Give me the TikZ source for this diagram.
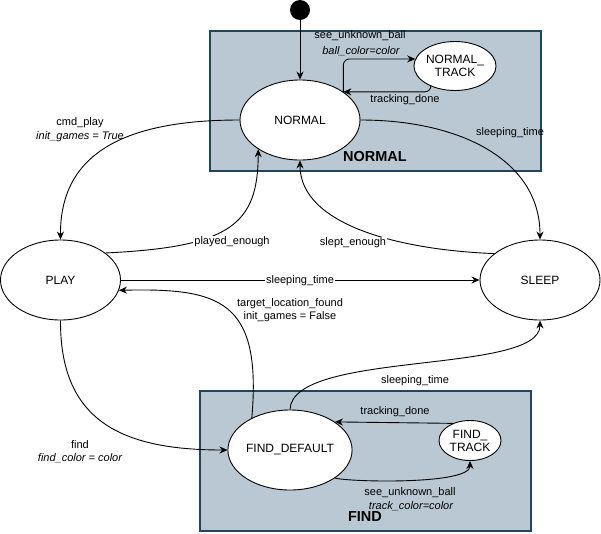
\documentclass[tikz,border=0pt]{standalone}
\usepackage{fontspec}
\setmainfont{Liberation Sans}
\usetikzlibrary{shapes.geometric,arrows.meta}
\definecolor{clfill}{HTML}{BAC8D3}
\definecolor{clline}{HTML}{23445D}
\begin{document}
\begin{tikzpicture}[x=1pt,y=-1pt,
  state/.style={ellipse, draw, fill=white, line width=0.9pt, inner sep=0pt, font=\fontsize{12}{14}\selectfont, align=center},
  lbl/.style={font=\fontsize{11}{13}\selectfont, inner sep=1pt, align=center},
  ilbl/.style={lbl, font=\fontsize{11}{13}\selectfont\itshape},
  title/.style={font=\fontsize{14.5}{16}\selectfont\bfseries, inner sep=0pt},
  edge/.style={-{Stealth[length=8pt,width=7pt]}, line width=0.9pt},
  cluster/.style={draw=clline, fill=clfill, line width=2.7pt, inner sep=0pt}]
\useasboundingbox (0,0) rectangle (601,533);
% clusters
\node[cluster, minimum width=331pt, minimum height=140pt] (normalbox) at (375.5,101) {};
\node[cluster, minimum width=331pt, minimum height=140pt] (findbox) at (365.5,461) {};
\node[title] (normaltitle) at (375,157) {NORMAL};
\node[title] (findtitle) at (365,517) {FIND};
% states
\node[circle, fill=black, minimum size=20pt, inner sep=0pt] (init) at (300,10) {};
\node[state, minimum width=120pt, minimum height=80pt] (normal) at (300,120) {NORMAL};
\node[state, minimum width=70pt, minimum height=49pt] (ntrack) at (455,66) {NORMAL\_\\[-1pt]TRACK};
\node[state, minimum width=120pt, minimum height=80pt] (play) at (60.5,280) {PLAY};
\node[state, minimum width=120pt, minimum height=80pt] (sleep) at (540,280) {SLEEP};
\node[state, minimum width=120pt, minimum height=80pt] (fd) at (290,450) {FIND\_DEFAULT};
\node[state, minimum width=62pt, minimum height=40pt] (ftrack) at (470,440.5) {FIND\_\\[-1pt]TRACK};
% edges
\draw[edge] (init) -- (normal.north);
\draw[edge, rounded corners=6pt] (normal.33) |- (ntrack.170);
\draw[edge, rounded corners=6pt] (ntrack.220) |- (normal.33);
\draw[edge] (normal.west) .. controls (130,120) and (60,150) .. (play.north);
\draw[edge] (play.31) .. controls (230,247) and (258,225) .. (normal.215);
\draw[edge] (normal.east) .. controls (460,120) and (540,160) .. (sleep.north);
\draw[edge] (sleep.150) .. controls (400,250) and (300,225) .. (normal.south);
\draw[edge] (play.east) -- (sleep.west);
\draw[edge] (fd.140) .. controls (262,300) and (220,288) .. (play.-10);
\draw[edge] (play.south) .. controls (60,420) and (120,450) .. (fd.west);
\draw[edge] (fd.north) .. controls (292,350) and (540,375) .. (sleep.south);
\draw[edge] (ftrack.135) -- (fd.32);
\draw[edge] (fd.-32) .. controls (350,482) and (470,485) .. (ftrack.south);
% labels
\node[lbl] (l1a) at (360,36) {see\_unknown\_ball};
\node[ilbl] (l1b) at (361,51) {ball\_color=color};
\node[lbl] (l2) at (405,100) {tracking\_done};
\node[lbl] (l3) at (510,133) {sleeping\_time};
\node[lbl] (l4a) at (80,123) {cmd\_play};
\node[ilbl] (l4b) at (80,137) {init\_games = True};
\node[lbl, fill=white] (l5) at (232,242) {played\_enough};
\node[lbl, fill=white] (l6) at (353,243) {slept\_enough};
\node[lbl, fill=white] (l7) at (300,281) {sleeping\_time};
\node[lbl] (l8a) at (290,304) {target\_location\_found};
\node[lbl] (l8b) at (290,317) {init\_games = False};
\node[lbl] (l9a) at (80,445) {find};
\node[ilbl] (l9b) at (80,458) {find\_color = color};
\node[lbl] (l10) at (415,381) {sleeping\_time};
\node[lbl] (l11) at (395,412) {tracking\_done};
\node[lbl] (l12a) at (410,493) {see\_unknown\_ball};
\node[ilbl] (l12b) at (411,506) {track\_color=color};
\end{tikzpicture}
\end{document}
